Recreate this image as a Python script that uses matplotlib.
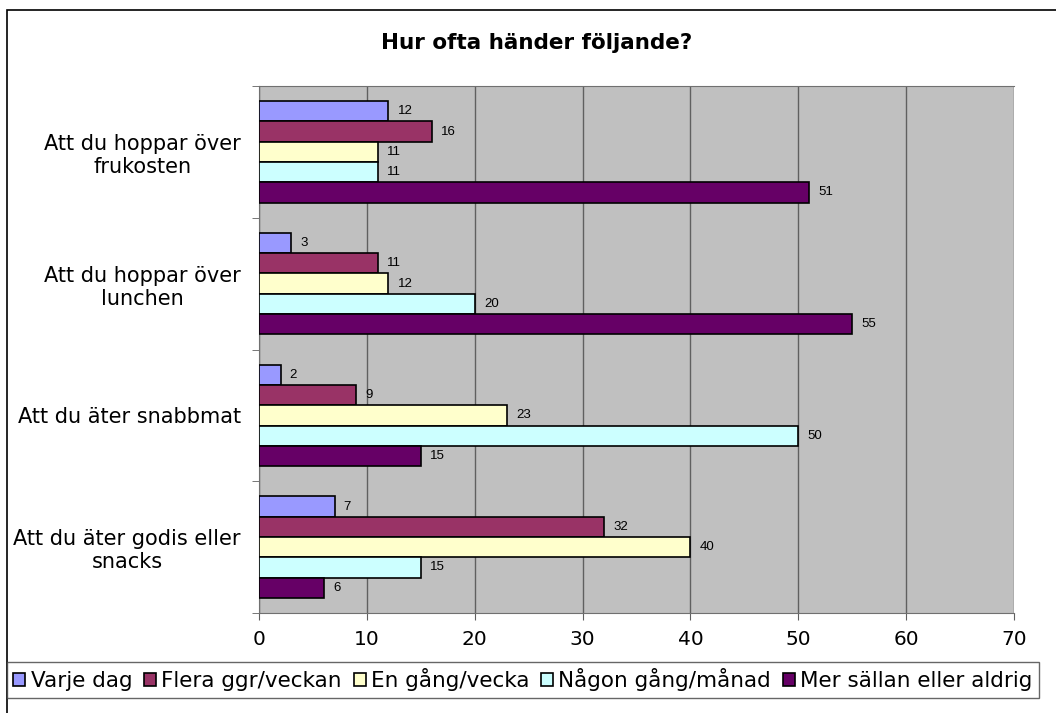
import numpy as np
import matplotlib.pyplot as plt
from matplotlib.patches import Rectangle

# Data
categories = ["Att du hoppar över\nfrukosten", "Att du hoppar över\nlunchen",
              "Att du äter snabbmat", "Att du äter godis eller\nsnacks"]
series = ["Varje dag", "Flera ggr/veckan", "En gång/vecka", "Någon gång/månad",
          "Mer sällan eller aldrig"]
varje_dag = [12, 3, 2, 7]
flera_ggr = [16, 11, 9, 32]
en_gang = [11, 12, 23, 40]
nagon_gang = [11, 20, 50, 15]
mer_sallan = [51, 55, 15, 6]
values = [varje_dag, flera_ggr, en_gang, nagon_gang, mer_sallan]
colors = ["#9999FF", "#993366", "#FFFFCC", "#CCFFFF", "#660066"]

W, H = 1056, 713
fig = plt.figure(figsize=(W / 100, H / 100), dpi=100)
ax = fig.add_axes([259 / W, 1 - 613 / H, 755 / W, 527 / H])
ax.set_facecolor("#C0C0C0")

bar_h = 0.154
y0 = np.arange(len(categories))
for i, (name, vals, c) in enumerate(zip(series, values, colors)):
    ypos = y0 - 2 * bar_h + i * bar_h
    bars = ax.barh(ypos, vals, height=bar_h, color=c, edgecolor="black",
                   linewidth=1.2, label=name, zorder=3)
    for b, v in zip(bars, vals):
        ax.text(b.get_width() + 0.85, b.get_y() + b.get_height() / 2, str(v),
                va="center", ha="left", fontsize=9.5, family="Liberation Sans",
                zorder=4)

ax.set_xlim(0, 70)
ax.set_ylim(len(categories) - 0.5, -0.5)
ax.set_xticks(range(0, 71, 10))
ax.xaxis.grid(True, color="#606060", linewidth=1, zorder=0)
ax.tick_params(axis="x", labelsize=14.5, length=5, color="#606060", pad=7)

# category labels, ticks at boundaries
ax.set_yticks(y0)
ax.set_yticklabels(categories, fontsize=15, ha="right", multialignment="center")
ax.tick_params(axis="y", length=0, pad=13)
ax.set_yticks(np.arange(-0.5, len(categories)), minor=True)
ax.tick_params(axis="y", which="minor", length=5, color="#606060")

ax.spines["right"].set_visible(False)
for s in ["left", "top", "bottom"]:
    ax.spines[s].set_color("#707070")

fig.text(537 / W, 1 - 43 / H, "Hur ofta händer följande?", ha="center",
         va="center", fontsize=15.5, fontweight="bold")

leg = fig.legend(loc="upper left", bbox_to_anchor=(7 / W, 1 - 662 / H),
                 ncol=5, fontsize=15.5, frameon=True,
                 fancybox=False, handlelength=0.55, handleheight=0.55,
                 handletextpad=0.25, columnspacing=0.55, borderpad=0.3,
                 borderaxespad=0)
leg.get_frame().set_edgecolor("#404040")
leg.get_frame().set_linewidth(1)

# chart frame (cut off at the right and bottom)
fig.patches.append(Rectangle((7 / W, -0.01), 1.0, 1 - 10 / H + 0.01,
                             transform=fig.transFigure, fill=False,
                             edgecolor="black", linewidth=1.2))

fig.savefig("out.png", dpi=100)
